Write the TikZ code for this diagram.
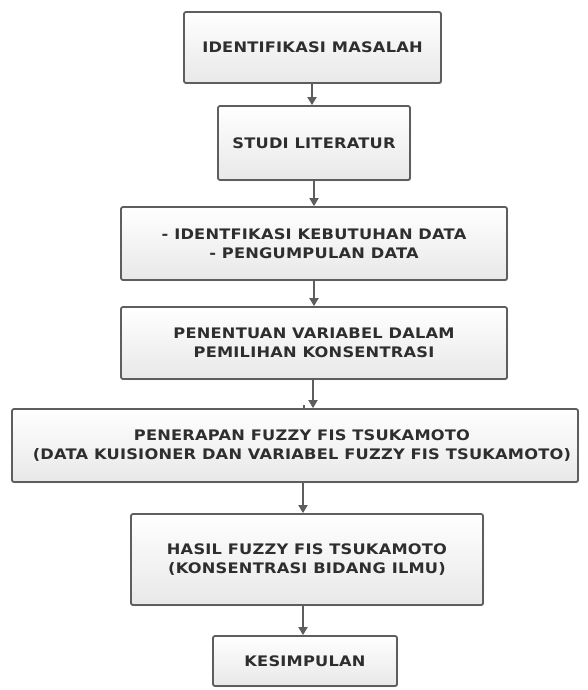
\documentclass[tikz,border=0pt]{standalone}
\usepackage{fontspec}
\setmainfont{DejaVu Sans}
\newfontfamily\boxfont[FakeStretch=1.12,LetterSpace=1.5]{DejaVu Sans}
\usetikzlibrary{shadows,arrows.meta}
\definecolor{edge}{HTML}{5E5E5E}
\definecolor{txt}{HTML}{2E2E2E}
\definecolor{fillbot}{HTML}{E8E8E8}
\tikzset{
  box/.style={draw=edge, line width=1.8pt, rounded corners=2pt,
    top color=white, bottom color=fillbot, inner sep=0pt,
    align=center, text=txt,
    font=\boxfont\fontsize{14.5}{19}\selectfont\bfseries,
    drop shadow={shadow xshift=1pt, shadow yshift=-1pt, opacity=0.25}},
  arr/.style={draw=edge, line width=1.8pt,
    -{Triangle[width=9pt,length=8pt]}}
}
\begin{document}
\begin{tikzpicture}[x=1pt,y=-1pt]
\useasboundingbox[fill=white] (0,0) rectangle (587,690);
\node[box, minimum width=257pt, minimum height=71pt] (b1) at (312.5,47.5) {IDENTIFIKASI MASALAH};
\node[box, minimum width=192pt, minimum height=74pt] (b2) at (314,143) {STUDI LITERATUR};
\node[box, minimum width=386pt, minimum height=73pt] (b3) at (314,243.5) {- IDENTFIKASI KEBUTUHAN DATA\\- PENGUMPULAN DATA};
\node[box, minimum width=386pt, minimum height=72pt] (b4) at (314,343) {PENENTUAN VARIABEL DALAM\\PEMILIHAN KONSENTRASI};
\node[box, minimum width=566pt, minimum height=73pt] (b5) at (295,445.5) {\hspace*{14pt}PENERAPAN FUZZY FIS TSUKAMOTO\\\hspace*{14pt}(DATA KUISIONER DAN VARIABEL FUZZY FIS TSUKAMOTO)};
\node[box, minimum width=352pt, minimum height=91pt] (b6) at (307,559.5) {HASIL FUZZY FIS TSUKAMOTO\\(KONSENTRASI BIDANG ILMU)};
\node[box, minimum width=184pt, minimum height=50pt] (b7) at (305,661) {KESIMPULAN};
\draw[arr] ([xshift=-0.5pt]b1.south) -- ([xshift=-0.5pt]b1.south |- b2.north);
\draw[arr] (b2.south) -- (b2.south |- b3.north);
\draw[arr] (b3.south) -- (b4.north);
\draw[arr] ([xshift=-1pt]b4.south) -- ([xshift=-1pt]b4.south |- b5.north);
\coordinate (tk) at ([xshift=9pt]b5.north);
\draw[edge, line width=1.8pt] (tk) -- ([yshift=3pt]tk);
\draw[arr] ([xshift=-4pt]b6.north |- b5.south) -- ([xshift=-4pt]b6.north);
\draw[arr] ([xshift=-2pt]b7.north |- b6.south) -- ([xshift=-2pt]b7.north);
\end{tikzpicture}
\end{document}
